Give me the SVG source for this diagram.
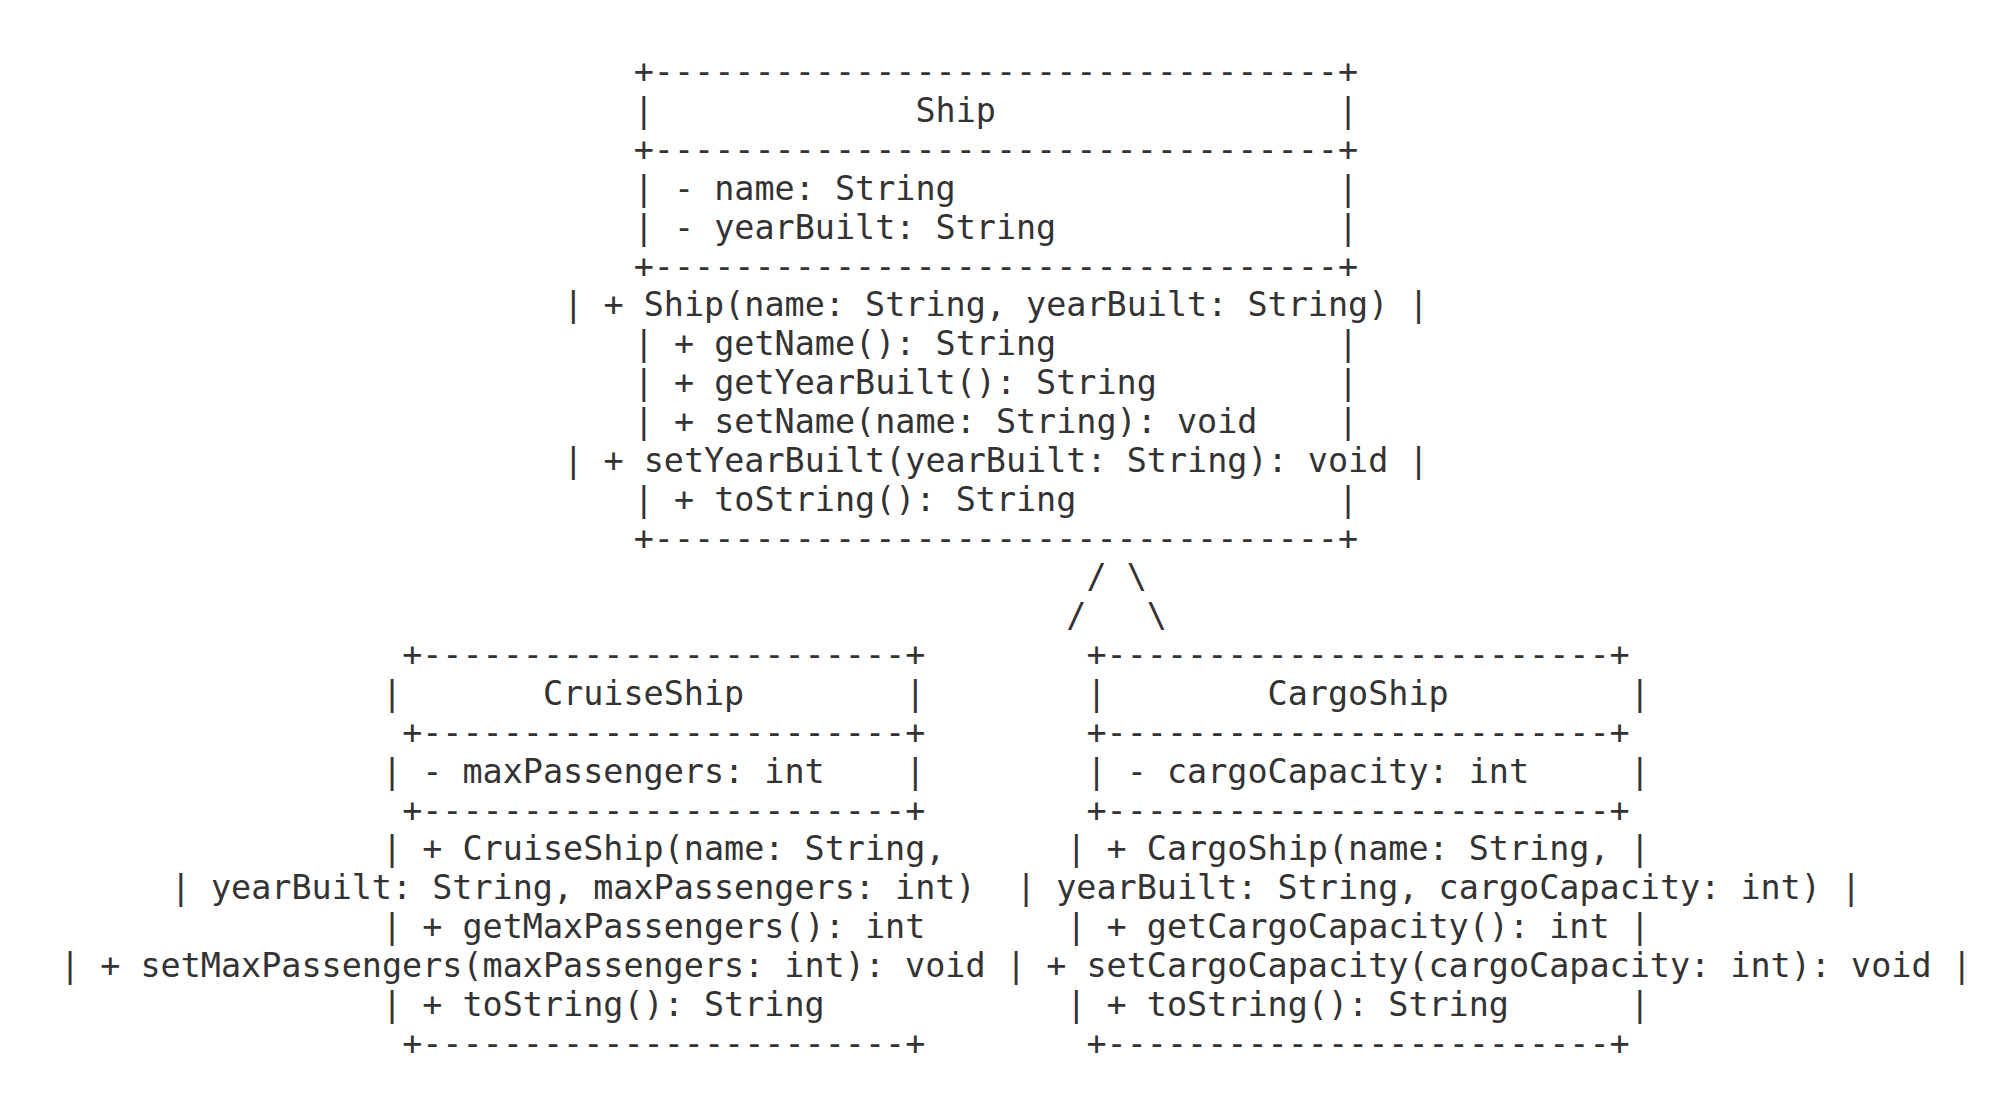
<svg xmlns="http://www.w3.org/2000/svg" width="1992" height="1120" viewBox="0 0 1992 1120">
<style>
.t { font-family: "DejaVu Sans Mono", "Liberation Mono", monospace; font-size: 33.43px; fill: #333333; white-space: pre; }
</style>
<rect x="0" y="0" width="1992" height="1120" fill="#ffffff"/>
<g id="ship">
<text class="t" xml:space="preserve" x="633.7" y="83.2">+----------------------------------+</text>
<text class="t" xml:space="preserve" x="633.7" y="122.06">|             Ship                 |</text>
<text class="t" xml:space="preserve" x="633.7" y="160.92">+----------------------------------+</text>
<text class="t" xml:space="preserve" x="633.7" y="199.78">| - name: String                   |</text>
<text class="t" xml:space="preserve" x="633.7" y="238.64">| - yearBuilt: String              |</text>
<text class="t" xml:space="preserve" x="633.7" y="277.5">+----------------------------------+</text>
<text class="t" xml:space="preserve" x="563.27" y="316.36">| + Ship(name: String, yearBuilt: String) |</text>
<text class="t" xml:space="preserve" x="633.7" y="355.22">| + getName(): String              |</text>
<text class="t" xml:space="preserve" x="633.7" y="394.08">| + getYearBuilt(): String         |</text>
<text class="t" xml:space="preserve" x="633.7" y="432.94">| + setName(name: String): void    |</text>
<text class="t" xml:space="preserve" x="563.27" y="471.8">| + setYearBuilt(yearBuilt: String): void |</text>
<text class="t" xml:space="preserve" x="633.7" y="510.66">| + toString(): String             |</text>
<text class="t" xml:space="preserve" x="633.7" y="549.52">+----------------------------------+</text>
</g>
<g id="connectors">
<text class="t" xml:space="preserve" x="1086.45" y="588.38">/ \</text>
<text class="t" xml:space="preserve" x="1066.32" y="627.24">/   \</text>
</g>
<g id="cruiseShip">
<text class="t" xml:space="preserve" x="402.13" y="666.1">+------------------------+</text>
<text class="t" xml:space="preserve" x="382" y="704.96">|       CruiseShip        |</text>
<text class="t" xml:space="preserve" x="402.13" y="743.82">+------------------------+</text>
<text class="t" xml:space="preserve" x="382" y="782.68">| - maxPassengers: int    |</text>
<text class="t" xml:space="preserve" x="402.13" y="821.54">+------------------------+</text>
<text class="t" xml:space="preserve" x="382" y="860.4">| + CruiseShip(name: String,</text>
<text class="t" xml:space="preserve" x="170.67" y="899.26">| yearBuilt: String, maxPassengers: int)</text>
<text class="t" xml:space="preserve" x="382" y="938.12">| + getMaxPassengers(): int</text>
<text class="t" xml:space="preserve" x="59.97" y="976.98">| + setMaxPassengers(maxPassengers: int): void</text>
<text class="t" xml:space="preserve" x="382" y="1015.84">| + toString(): String</text>
<text class="t" xml:space="preserve" x="402.13" y="1054.7">+------------------------+</text>
</g>
<g id="cargoShip">
<text class="t" xml:space="preserve" x="1086.45" y="666.1">+-------------------------+</text>
<text class="t" xml:space="preserve" x="1086.45" y="704.96">|        CargoShip         |</text>
<text class="t" xml:space="preserve" x="1086.45" y="743.82">+-------------------------+</text>
<text class="t" xml:space="preserve" x="1086.45" y="782.68">| - cargoCapacity: int     |</text>
<text class="t" xml:space="preserve" x="1086.45" y="821.54">+-------------------------+</text>
<text class="t" xml:space="preserve" x="1066.32" y="860.4">| + CargoShip(name: String, |</text>
<text class="t" xml:space="preserve" x="1016" y="899.26">| yearBuilt: String, cargoCapacity: int) |</text>
<text class="t" xml:space="preserve" x="1066.32" y="938.12">| + getCargoCapacity(): int |</text>
<text class="t" xml:space="preserve" x="1005.94" y="976.98">| + setCargoCapacity(cargoCapacity: int): void |</text>
<text class="t" xml:space="preserve" x="1066.32" y="1015.84">| + toString(): String      |</text>
<text class="t" xml:space="preserve" x="1086.45" y="1054.7">+-------------------------+</text>
</g>
</svg>
